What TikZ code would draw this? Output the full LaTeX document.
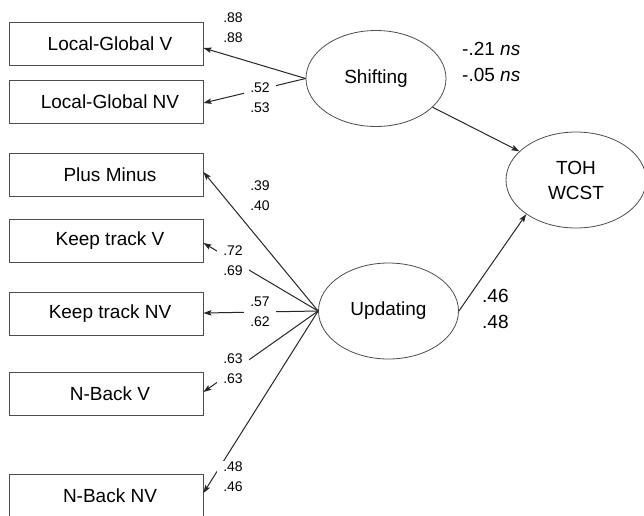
\documentclass[tikz,border=0pt]{standalone}
\usepackage{fontspec}
\setmainfont{Liberation Sans}
\usetikzlibrary{shapes.geometric,arrows.meta}
\begin{document}
\begin{tikzpicture}[x=1pt,y=-1pt,
  measbox/.style={draw=black!70, line width=0.9pt, minimum width=194pt, minimum height=43pt, inner sep=0pt, font=\fontsize{19}{23}\selectfont, execute at begin node={\hspace*{8pt}}},
  latent/.style={ellipse, draw=black!70, line width=0.8pt, minimum width=140pt, minimum height=96pt, inner sep=0pt, font=\fontsize{19}{25}\selectfont, align=center},
  path/.style={line width=1pt, draw=black!85, -{Stealth[length=8pt,width=5.5pt,inset=1.5pt]}},
  coef/.style={fill=white, inner xsep=6pt, inner ysep=1pt, align=left, font=\fontsize{14}{20}\selectfont},
  bigcoef/.style={inner sep=0pt, anchor=west, align=left, font=\fontsize{19}{26}\selectfont}]
\useasboundingbox (0,0) rectangle (644,515);
\clip (0,0) rectangle (644,515);
% measured variables
\node[measbox] (lgv)  at (106,44)  {Local-Global V};
\node[measbox] (lgnv) at (106,102) {Local-Global NV};
\node[measbox] (pm)   at (106,175) {Plus Minus};
\node[measbox] (ktv)  at (106,240.5) {Keep track V};
\node[measbox] (ktnv) at (106,313.5) {Keep track NV};
\node[measbox] (nbv)  at (106,394) {N-Back V};
\node[measbox] (nbnv) at (106,495.5) {N-Back NV};
% latent variables
\node[latent] (shift) at (376,78.5) {Shifting};
\node[latent] (upd)   at (388.5,311) {Updating};
\node[latent] (toh)   at (576,180) {TOH\\WCST};
% paths
\draw[path] (shift.west) -- (lgv.east |- 0,48);
\draw[path] (shift.west) -- (lgnv.east |- 0,103);
\draw[path] (upd.west) -- (pm.east |- 0,172);
\draw[path] (upd.west) -- (ktv.east |- 0,243);
\draw[path] (upd.west) -- (ktnv.east |- 0,313);
\draw[path] (upd.west) -- (nbv.east |- 0,392);
\draw[path] (upd.west) -- (nbnv.east |- 0,493);
\draw[path] (shift) -- (toh);
\draw[path] (upd.east) -- (toh.south west);
% coefficients
\node[coef] (c1) at (233,28) {.88\\.88};
\node[coef] (c2) at (260,97.5) {.52\\.53};
\node[coef] (c3) at (260,195.5) {.39\\.40};
\node[coef] (c4) at (233,261) {.72\\.69};
\node[coef] (c5) at (260,312) {.57\\.62};
\node[coef] (c6) at (233,369) {.63\\.63};
\node[coef] (c7) at (233,477) {.48\\.46};
\node[bigcoef] (c8) at (462,62) {-.21 \textit{ns}\\-.05 \textit{ns}};
\node[bigcoef] (c9) at (482,309) {.46\\.48};
\end{tikzpicture}
\end{document}
